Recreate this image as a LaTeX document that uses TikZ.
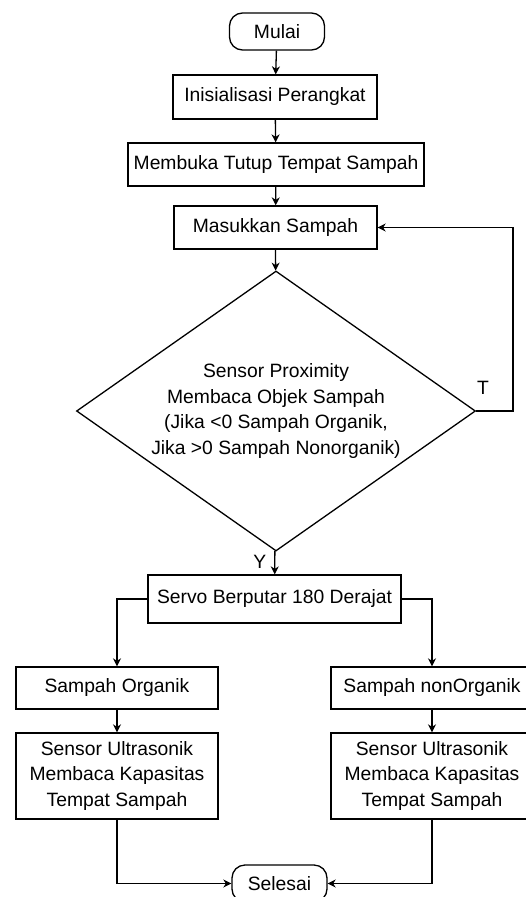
\documentclass[tikz,border=0pt]{standalone}
\usepackage{fontspec}
\setmainfont{Liberation Sans}
\usetikzlibrary{positioning,arrows.meta,calc,shapes.geometric}

\begin{document}
\begin{tikzpicture}[x=1pt, y=-1pt, line width=1.3pt,
  every node/.style={font=\fontsize{19.3}{25.5}\selectfont, align=center, inner sep=0pt},
  proses/.style={draw, rectangle, minimum height=43pt},
  terminal/.style={draw, rectangle, rounded corners=13pt, minimum width=95pt, minimum height=37pt},
  keputusan/.style={draw, diamond, aspect=1.425, minimum width=399pt, minimum height=280pt},
  panah/.style={-{Stealth[length=8pt, width=8pt, inset=2.5pt]}}]
  \useasboundingbox (0,0) rectangle (525,897);
  \node[terminal] (mulai) at (277,31.5) {Mulai};
  \node[proses, minimum width=204pt, minimum height=44pt] (init) at (275,97) {Inisialisasi Perangkat};
  \node[proses, minimum width=296pt] (buka) at (276,164.5) {Membuka Tutup Tempat Sampah};
  \node[proses, minimum width=203pt] (masuk) at (275.5,227.5) {Masukkan Sampah};
  \node[keputusan] (cek) at (276,411) {Sensor Proximity\\ Membaca Objek Sampah\\(Jika <0 Sampah Organik,\\Jika >0 Sampah Nonorganik)};
  \node[proses, minimum width=253pt, minimum height=48pt] (servo) at (274.5,599) {Servo Berputar 180 Derajat};
  \node[proses, minimum width=202pt, minimum height=42pt] (organik) at (117,688) {Sampah Organik};
  \node[proses, minimum width=202pt, minimum height=42pt] (nonorganik) at (432,688) {Sampah nonOrganik};
  \node[proses, minimum width=202pt, minimum height=86pt] (ultra1) at (117,776) {Sensor Ultrasonik\\Membaca Kapasitas\\Tempat Sampah};
  \node[proses, minimum width=202pt, minimum height=86pt] (ultra2) at (432,776) {Sensor Ultrasonik\\Membaca Kapasitas\\Tempat Sampah};
  \node[terminal] (selesai) at (279.5,883.5) {Selesai};
  \coordinate (balik) at (513,411);
  \draw[panah] (mulai) -- (init);
  \draw[panah] (init) -- (buka);
  \draw[panah] (buka) -- (masuk);
  \draw[panah] (masuk) -- (cek);
  \draw[panah] (cek) -- node[left=8pt, pos=0.45]{Y} (servo);
  \draw[panah] (cek.east) -- (balik) |- (masuk.east);
  \node (tlabel) at (483,388) {T};
  \draw[panah] (servo.west) -| (organik.north);
  \draw[panah] (servo.east) -| (nonorganik.north);
  \draw[panah] (organik) -- (ultra1);
  \draw[panah] (nonorganik) -- (ultra2);
  \draw[panah] (ultra1.south) |- (selesai.west);
  \draw[panah] (ultra2.south) |- (selesai.east);
\end{tikzpicture}
\end{document}
